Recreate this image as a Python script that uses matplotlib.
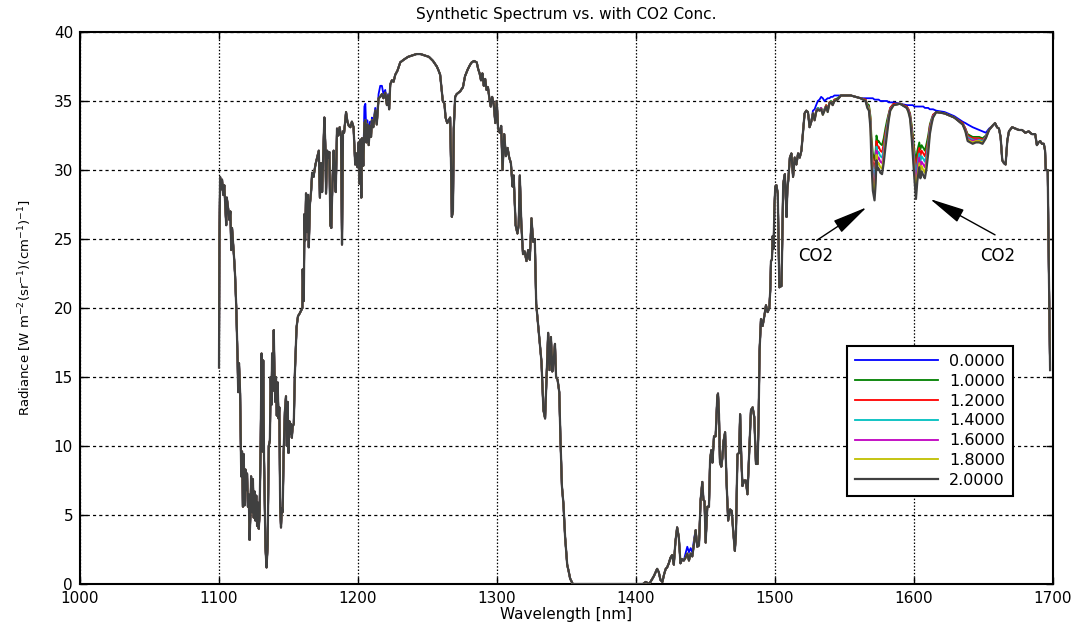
import numpy as np
import matplotlib
matplotlib.use('Agg')
import matplotlib.pyplot as plt

# ---------------- data ----------------
series_labels = ['0.0000', '1.0000', '1.2000', '1.4000', '1.6000', '1.8000', '2.0000']
series_colors = ['#0000ff', '#008000', '#ff0000', '#00bfbf', '#bf00bf', '#bfbf00', '#404040']

# common spectrum (identical for all CO2 concentrations outside the CO2 band)
wl_a = [1100.0, 1100.3, 1100.8, 1101.5, 1102.2, 1103.0, 1103.8, 1104.5, 1105.2, 1105.6,
        1106.6, 1107.4, 1108.2, 1108.8, 1109.4, 1110.2, 1111.0, 1111.6, 1112.0, 1112.4,
        1113.4, 1113.8, 1114.4, 1115.2, 1116.0, 1116.6, 1117.2, 1117.8, 1118.4, 1119.0,
        1119.6, 1120.2, 1120.8, 1121.4, 1122.0, 1122.6, 1123.1, 1123.8, 1124.4, 1125.0,
        1125.6, 1126.2, 1126.8, 1127.4, 1128.0, 1128.6, 1129.2, 1130.0, 1130.6, 1131.2,
        1131.8, 1132.4, 1133.4, 1134.2, 1135.0, 1135.8, 1136.6, 1137.2, 1137.8, 1138.2,
        1138.8, 1139.4, 1139.9, 1140.5, 1141.0, 1141.6, 1142.2, 1142.8, 1143.4, 1144.0,
        1144.6, 1145.2, 1145.8, 1146.5, 1147.4, 1148.2, 1148.8, 1149.4, 1150.0, 1150.6,
        1151.2, 1151.8, 1152.4, 1153.0, 1153.8, 1154.6, 1155.8, 1156.8, 1158.0, 1160.0]
rad_a = [15.7, 24.9, 29.5, 28.6, 29.3, 28.2, 28.9, 27.5, 26.0, 28.0,
         27.2, 26.4, 27.0, 24.2, 25.8, 24.6, 23.4, 22.3, 21.2, 20.1,
         16.2, 13.9, 16.0, 13.8, 7.8, 9.6, 5.6, 9.4, 5.7, 8.3,
         6.8, 8.0, 5.6, 6.5, 3.2, 5.0, 7.8, 5.2, 7.6, 4.8,
         6.7, 4.6, 6.4, 4.2, 5.9, 4.0, 5.0, 10.4, 16.7, 9.6,
         16.2, 9.2, 2.7, 1.2, 2.8, 10.0, 10.4, 15.0, 13.0, 16.7,
         14.0, 18.4, 15.3, 13.2, 15.0, 12.2, 14.6, 12.0, 12.8, 5.6,
         4.1, 5.5, 5.2, 9.5, 12.5, 13.6, 10.0, 13.2, 9.5, 11.8,
         10.9, 11.6, 10.6, 11.4, 11.6, 15.3, 18.6, 19.4, 19.6, 20.0]

wl_b = [1160.2, 1161.0, 1161.5, 1162.0, 1162.6, 1163.4, 1164.0, 1164.6, 1165.4, 1166.3,
        1167.0, 1168.0, 1169.4, 1170.6, 1171.8, 1172.6, 1173.4, 1174.2, 1175.0, 1175.8,
        1176.6, 1177.0, 1177.8, 1178.6, 1179.4, 1180.1, 1180.8, 1181.6, 1182.5, 1183.2,
        1184.0, 1184.9, 1185.8, 1186.8, 1187.8, 1188.5, 1189.2, 1190.0, 1191.4, 1192.4,
        1193.4, 1194.5, 1195.6, 1196.8, 1198.0, 1198.8, 1199.6, 1200.5, 1201.2, 1201.8,
        1202.4, 1202.9, 1203.8, 1204.6, 1205.3, 1206.0, 1206.8, 1207.7, 1208.6, 1209.4,
        1210.0, 1211.0, 1212.4, 1213.5, 1214.8, 1216.0, 1217.2, 1218.3, 1219.6, 1220.8,
        1221.6, 1222.4, 1223.2, 1224.4, 1225.6, 1226.8, 1228.4, 1230.4, 1233.0, 1236.0,
        1239.0, 1242.0, 1245.0, 1248.0, 1251.0, 1254.0, 1256.7, 1258.0, 1259.1, 1260.2,
        1261.0, 1262.2, 1263.0, 1264.2, 1265.2, 1266.3, 1267.0, 1267.5, 1268.3, 1268.9,
        1269.9, 1271.0, 1273.5, 1275.5, 1277.0, 1279.0, 1280.5, 1281.8, 1283.5, 1285.4,
        1286.5, 1287.5, 1288.5, 1289.5, 1290.5, 1291.5, 1292.5, 1293.5, 1294.5, 1295.5,
        1296.5, 1297.6, 1298.8, 1299.8]
rad_b = [22.8, 20.5, 26.8, 24.9, 28.3, 25.5, 28.2, 24.4, 27.5, 28.5,
         29.8, 29.5, 30.4, 30.9, 31.4, 28.0, 30.5, 28.4, 31.0, 33.8,
         31.5, 28.3, 31.4, 30.9, 31.3, 26.0, 25.8, 29.0, 31.4, 29.5,
         28.4, 33.0, 32.5, 33.1, 32.4, 24.6, 32.8, 32.7, 34.2, 33.5,
         33.2, 33.1, 33.5, 33.1, 30.4, 31.2, 30.2, 32.0, 29.0, 32.2,
         28.0, 32.3, 30.3, 33.4, 33.6, 32.0, 33.3, 31.8, 33.2, 32.4,
         33.6, 33.1, 34.3, 33.3, 35.2, 35.3, 35.5, 35.2, 35.6, 34.7,
         35.4, 34.4, 36.2, 36.5, 36.4, 36.9, 37.2, 37.8, 38.0, 38.2,
         38.3, 38.4, 38.4, 38.3, 38.2, 37.9, 37.5, 37.2, 36.9, 35.8,
         35.0, 34.8, 33.8, 33.4, 33.6, 33.8, 30.0, 26.6, 27.0, 33.0,
         35.3, 35.5, 35.7, 36.0, 36.8, 37.3, 37.6, 37.8, 37.9, 37.8,
         37.3, 37.0, 36.5, 37.0, 36.1, 36.6, 35.8, 36.0, 35.2, 34.6,
         35.3, 34.8, 33.4, 35.0]

wl_c = [1300.8, 1302.0, 1303.0, 1304.0, 1305.2, 1306.4, 1307.6, 1308.8, 1310.0, 1311.2,
        1312.0, 1313.4, 1314.7, 1315.6, 1316.4, 1317.5, 1318.7, 1319.9, 1321.2, 1322.4,
        1323.6, 1324.8, 1326.0, 1327.2, 1328.2, 1329.4, 1330.8, 1332.0, 1333.4, 1334.6,
        1335.6, 1336.8, 1337.8, 1338.8, 1339.8, 1340.7, 1341.7, 1342.5, 1343.6, 1344.8,
        1345.6, 1346.7, 1347.8, 1349.0, 1350.5, 1351.6, 1352.6, 1354.5, 1405.0, 1407.0,
        1409.5]
rad_c = [33.0, 32.7, 33.2, 30.0, 32.6, 31.0, 31.6, 30.9, 30.5, 28.8,
         29.6, 26.0, 25.4, 26.0, 29.6, 26.1, 23.9, 24.1, 23.4, 24.2,
         23.5, 26.5, 24.8, 25.0, 20.3, 19.0, 17.4, 16.1, 12.6, 12.0,
         14.8, 18.2, 15.5, 17.9, 15.4, 16.1, 17.4, 15.0, 14.8, 13.9,
         10.7, 7.1, 5.8, 3.4, 1.4, 0.9, 0.4, 0.0, 0.0, 0.15,
         0.0]

wl_d = [1411.6, 1413.0, 1415.2, 1416.4, 1417.6, 1419.0, 1420.2, 1421.4, 1422.4, 1423.6,
        1424.8, 1426.0, 1427.2, 1428.4, 1429.6, 1430.8, 1432.0, 1433.2, 1434.4, 1435.6,
        1436.9, 1438.1, 1439.3, 1440.5, 1441.7, 1442.9, 1444.1, 1445.3, 1446.5, 1447.7,
        1448.5, 1449.3, 1450.1, 1451.3, 1452.5, 1453.3, 1454.2, 1455.0, 1456.1, 1457.3,
        1458.5, 1459.0, 1459.7, 1460.4, 1461.4, 1462.1, 1462.9, 1464.1, 1465.1, 1466.3,
        1467.7, 1468.9, 1469.8, 1471.1, 1471.9, 1473.0, 1474.2, 1474.9, 1475.8, 1476.6,
        1477.8, 1479.0, 1480.2, 1481.4, 1482.7, 1483.9, 1485.1, 1486.3, 1487.5, 1488.2,
        1488.9, 1489.9, 1491.1, 1492.3, 1493.5, 1494.7, 1495.9, 1496.6, 1497.1, 1497.8,
        1498.3, 1499.0, 1499.5, 1500.2, 1501.0, 1502.0, 1503.1, 1504.7, 1505.5, 1505.9,
        1507.1, 1508.3, 1508.9, 1509.5, 1510.7, 1511.8, 1513.0, 1514.2, 1515.4, 1516.6,
        1517.8, 1519.0, 1520.1, 1521.3, 1522.5, 1523.7, 1524.9, 1526.1]
rad_d = [0.35, 0.6, 1.1, 0.85, 0.3, 0.15, 0.7, 1.1, 1.2, 1.5,
         1.9, 2.1, 1.4, 3.1, 4.1, 3.4, 1.5, 1.8, 1.7, 1.9,
         2.2, 1.7, 2.2, 2.0, 2.9, 3.9, 2.7, 2.8, 6.1, 7.4,
         6.1, 6.0, 3.0, 5.6, 5.6, 9.0, 9.7, 8.8, 10.7, 10.7,
         13.6, 13.8, 12.3, 8.8, 8.5, 9.1, 10.3, 11.0, 7.5, 4.6,
         5.4, 5.3, 4.0, 2.4, 3.6, 9.4, 9.5, 12.3, 9.0, 7.1,
         7.5, 7.5, 6.5, 9.5, 12.6, 12.8, 12.1, 8.7, 8.7, 11.9,
         16.9, 19.2, 18.7, 19.4, 20.2, 19.7, 20.0, 21.3, 23.4, 23.5,
         25.2, 24.3, 27.1, 28.8, 28.9, 28.3, 21.5, 21.6, 26.6, 29.0,
         29.7, 26.6, 28.6, 29.2, 30.9, 31.2, 29.5, 30.9, 30.4, 31.2,
         30.9, 31.4, 32.7, 34.1, 34.3, 34.2, 33.1, 33.5]

wl_e = [1661.1, 1662.3, 1663.5, 1664.7, 1665.9, 1667.1, 1668.3, 1670.6, 1673.0, 1675.4,
        1677.7, 1680.1, 1682.5, 1684.8, 1687.2, 1688.4, 1689.6, 1690.8, 1692.0, 1693.4,
        1694.3, 1694.8, 1696.2, 1696.7, 1697.9]
rad_e = [33.0, 32.4, 30.7, 30.5, 30.4, 32.1, 32.8, 33.1, 33.0, 32.9,
         32.9, 32.7, 32.8, 32.6, 32.6, 31.8, 32.0, 32.1, 31.9, 31.9,
         31.4, 30.0, 30.0, 25.4, 15.5]

# 0.0000 (no CO2) values where it departs from the common spectrum
blue_win1_wl = (1203.8, 1222.4)
blue_win1_rad = [30.4, 34.6, 34.8, 32.6, 33.6, 32.3, 33.5, 32.7, 33.8, 33.3,
                 34.5, 33.5, 35.5, 36.1, 36.1, 35.5, 35.8, 34.9, 35.5, 34.5]
blue_win2_wl = (1435.6, 1441.7)
blue_win2_rad = [2.2, 2.7, 2.3, 2.6, 2.3, 3.2]

# CO2 band region, one list per concentration
wl_band = [1527.3, 1528.5, 1529.6, 1530.8, 1532.0, 1533.2, 1534.4, 1535.6, 1536.8, 1537.9,
           1539.1, 1540.3, 1541.5, 1542.7, 1545.0, 1547.4, 1554.5, 1561.6,
           1565.2, 1566.4, 1567.6, 1568.7, 1569.4, 1570.4, 1571.6, 1572.4, 1573.0, 1574.0,
           1574.6, 1575.8, 1577.0, 1578.2, 1579.4, 1580.6, 1581.8, 1582.9, 1585.3, 1590.0,
           1594.8, 1596.0, 1597.2, 1598.3, 1599.2, 1600.2, 1601.4, 1602.4, 1603.8, 1604.6,
           1605.5, 1606.7, 1607.8, 1609.0, 1610.2, 1611.4, 1612.6, 1613.7,
           1616.0, 1622.0, 1629.0, 1635.0, 1637.0, 1638.6, 1640.4, 1642.2, 1644.5, 1646.9,
           1649.3, 1651.7, 1654.0, 1656.4, 1658.3, 1659.7]
band_c00 = [34.3, 34.4, 34.7, 35.0, 35.1, 35.3, 35.2, 35.0, 35.1, 35.2, 35.2, 35.3, 35.3, 35.4, 35.4, 35.4, 35.4, 35.2,
            35.2, 35.2, 35.2, 35.2, 35.2, 35.2, 35.1, 35.1, 35.1, 35.1, 35.1, 35.0, 35.0, 35.0, 35.0, 35.0, 34.9, 34.9, 34.9, 34.8,
            34.7, 34.7, 34.7, 34.7, 34.7, 34.6, 34.6, 34.6, 34.6, 34.6, 34.6, 34.6, 34.5, 34.5, 34.5, 34.4, 34.4, 34.4,
            34.3, 34.2, 33.9, 33.5, 33.4, 33.3, 33.2, 33.1, 33.0, 32.9, 32.8, 32.7, 33.0, 33.2, 33.4, 33.1]
band_c10 = [34.1, 33.7, 34.3, 34.5, 34.4, 34.5, 34.2, 34.4, 34.7, 34.4, 34.9, 35.0, 34.8, 35.1, 35.2, 35.4, 35.4, 35.2,
            35.1, 34.8, 34.7, 33.9, 32.4, 31.2, 30.7, 31.4, 32.5, 32.0, 32.1, 31.9, 31.8, 32.3, 33.0, 33.6, 34.1, 34.5, 34.8, 34.8,
            34.6, 34.4, 34.1, 33.3, 32.5, 31.5, 30.6, 31.4, 32.0, 31.5, 31.8, 31.6, 31.4, 31.9, 32.5, 33.3, 33.7, 34.0,
            34.2, 34.1, 33.8, 33.4, 33.0, 32.6, 32.5, 32.4, 32.4, 32.4, 32.3, 32.5, 32.9, 33.2, 33.4, 33.1]
band_c12 = [34.1, 33.7, 34.3, 34.5, 34.4, 34.5, 34.1, 34.4, 34.7, 34.3, 34.9, 34.9, 34.8, 35.1, 35.1, 35.4, 35.4, 35.2,
            35.1, 34.7, 34.6, 33.7, 32.0, 30.6, 30.1, 30.9, 32.1, 31.6, 31.7, 31.4, 31.3, 31.9, 32.7, 33.3, 34.0, 34.5, 34.8, 34.8,
            34.6, 34.4, 34.0, 33.1, 32.2, 31.1, 30.0, 30.9, 31.6, 31.0, 31.4, 31.2, 31.0, 31.5, 32.2, 33.2, 33.6, 34.0,
            34.2, 34.1, 33.8, 33.4, 33.0, 32.5, 32.4, 32.3, 32.3, 32.3, 32.2, 32.4, 32.9, 33.2, 33.4, 33.1]
band_c14 = [34.1, 33.7, 34.2, 34.5, 34.4, 34.5, 34.1, 34.4, 34.6, 34.3, 34.8, 34.9, 34.8, 35.0, 35.1, 35.4, 35.4, 35.2,
            35.0, 34.7, 34.5, 33.5, 31.6, 30.0, 29.5, 30.4, 31.7, 31.2, 31.3, 31.0, 30.9, 31.5, 32.4, 33.2, 33.9, 34.4, 34.7, 34.8,
            34.5, 34.3, 33.9, 32.9, 31.9, 30.7, 29.4, 30.4, 31.2, 30.6, 31.0, 30.8, 30.6, 31.1, 32.0, 33.0, 33.6, 33.9,
            34.2, 34.1, 33.8, 33.3, 32.9, 32.4, 32.3, 32.2, 32.2, 32.2, 32.1, 32.4, 32.9, 33.2, 33.4, 33.1]
band_c16 = [34.1, 33.6, 34.2, 34.4, 34.3, 34.5, 34.1, 34.3, 34.6, 34.3, 34.8, 34.9, 34.7, 35.0, 35.1, 35.4, 35.4, 35.2,
            35.0, 34.6, 34.4, 33.3, 31.2, 29.5, 28.9, 29.9, 31.4, 30.8, 30.9, 30.6, 30.5, 31.2, 32.1, 33.0, 33.8, 34.4, 34.7, 34.8,
            34.5, 34.3, 33.9, 32.8, 31.6, 30.3, 28.9, 30.0, 30.9, 30.2, 30.6, 30.4, 30.2, 30.8, 31.7, 32.9, 33.5, 33.9,
            34.2, 34.1, 33.8, 33.3, 32.9, 32.3, 32.2, 32.1, 32.2, 32.1, 32.0, 32.4, 32.9, 33.2, 33.4, 33.1]
band_c18 = [34.1, 33.6, 34.2, 34.4, 34.3, 34.4, 34.0, 34.3, 34.6, 34.2, 34.8, 34.9, 34.7, 35.0, 35.1, 35.4, 35.4, 35.2,
            35.0, 34.6, 34.4, 33.2, 30.9, 29.0, 28.4, 29.5, 31.1, 30.4, 30.5, 30.2, 30.1, 30.9, 31.9, 32.8, 33.7, 34.3, 34.7, 34.8,
            34.5, 34.2, 33.8, 32.6, 31.3, 29.9, 28.4, 29.6, 30.5, 29.8, 30.3, 30.0, 29.8, 30.5, 31.5, 32.7, 33.4, 33.8,
            34.2, 34.1, 33.8, 33.3, 32.8, 32.2, 32.1, 32.0, 32.1, 32.1, 32.0, 32.3, 32.9, 33.2, 33.4, 33.1]
band_c20 = [34.1, 33.6, 34.2, 34.4, 34.3, 34.4, 34.0, 34.3, 34.6, 34.2, 34.8, 34.9, 34.7, 35.0, 35.1, 35.4, 35.4, 35.2,
            35.0, 34.5, 34.3, 33.0, 30.5, 28.5, 27.8, 29.0, 30.7, 30.0, 30.1, 29.8, 29.7, 30.5, 31.6, 32.6, 33.6, 34.3, 34.7, 34.8,
            34.5, 34.2, 33.7, 32.4, 31.0, 29.5, 27.9, 29.2, 30.2, 29.4, 29.9, 29.6, 29.4, 30.1, 31.2, 32.6, 33.3, 33.8,
            34.2, 34.1, 33.8, 33.3, 32.8, 32.1, 32.0, 31.9, 32.0, 32.0, 31.9, 32.3, 32.9, 33.2, 33.4, 33.1]
band_series = [band_c00, band_c10, band_c12, band_c14, band_c16, band_c18, band_c20]

# ---------------- assemble ----------------
pre_wl = np.array(wl_a + wl_b + wl_c + wl_d)
pre_rad = np.array(rad_a + rad_b + rad_c + rad_d)
post_wl = np.array(wl_e)
post_rad = np.array(rad_e)

plt.rcParams['font.family'] = ['DejaVu Sans']
fig = plt.figure(figsize=(10.81, 6.29), dpi=100)
ax = fig.add_axes([80 / 1081, 45 / 629, 973 / 1081, 552 / 629])

for i, (lab, col) in enumerate(zip(series_labels, series_colors)):
    r_pre = pre_rad.copy()
    if i == 0:
        for (w0, w1), vals in ((blue_win1_wl, blue_win1_rad), (blue_win2_wl, blue_win2_rad)):
            m = (pre_wl >= w0 - 0.05) & (pre_wl <= w1 + 0.05)
            r_pre[m] = vals
    x = np.concatenate([pre_wl, np.array(wl_band), post_wl])
    y = np.concatenate([r_pre, np.array(band_series[i]), post_rad])
    ax.plot(x, y, color=col, lw=1.6 if i == 6 else 1.3, label=lab, zorder=2 + i)

ax.set_xlim(1000, 1700)
ax.set_ylim(0, 40)
ax.set_xticks(np.arange(1000, 1701, 100))
ax.set_yticks(np.arange(0, 41, 5))
ax.tick_params(direction='in', length=5, width=1, top=True, right=True,
               labelsize=11, pad=5)
for s in ax.spines.values():
    s.set_linewidth(1.5)
ax.xaxis.grid(True, linestyle=(0, (1.2, 1.5)), color='black', lw=0.9)
ax.yaxis.grid(True, linestyle=(0, (2.5, 2.5)), color='black', lw=0.9)
ax.set_axisbelow(True)

ax.set_title('Synthetic Spectrum vs. with CO2 Conc.', fontsize=11, pad=9)
ax.set_xlabel('Wavelength [nm]', fontsize=11)
ax.set_ylabel(r'Radiance [W m$^{-2}$(sr$^{-1}$)(cm$^{-1}$)$^{-1}$]', fontsize=9.5)
ax.yaxis.set_label_coords(-0.047, 0.5)
ax.xaxis.set_label_coords(0.5, -0.041)

arrow = dict(arrowstyle='-|>,head_length=1.1,head_width=0.22', mutation_scale=20,
             color='black', lw=1.0, shrinkA=0, shrinkB=0)
ax.annotate('', xy=(1566, 27.3), xytext=(1530, 24.9), arrowprops=arrow)
ax.annotate('', xy=(1611.5, 27.9), xytext=(1658.3, 25.3), arrowprops=arrow)
ax.text(1529.5, 23.8, 'CO2', fontsize=12, ha='center', va='center')
ax.text(1660.4, 23.8, 'CO2', fontsize=12, ha='center', va='center')

leg = ax.legend(loc='upper left', bbox_to_anchor=(0.788, 0.431), fontsize=11.5,
                frameon=True, fancybox=False, shadow=False, borderaxespad=0,
                handlelength=5.2, handletextpad=0.7, labelspacing=0.3,
                borderpad=0.5, framealpha=1)
leg.get_frame().set_edgecolor('black')
leg.get_frame().set_linewidth(1.5)
leg.set_zorder(20)

fig.savefig('out.png', dpi=100, facecolor='white')
